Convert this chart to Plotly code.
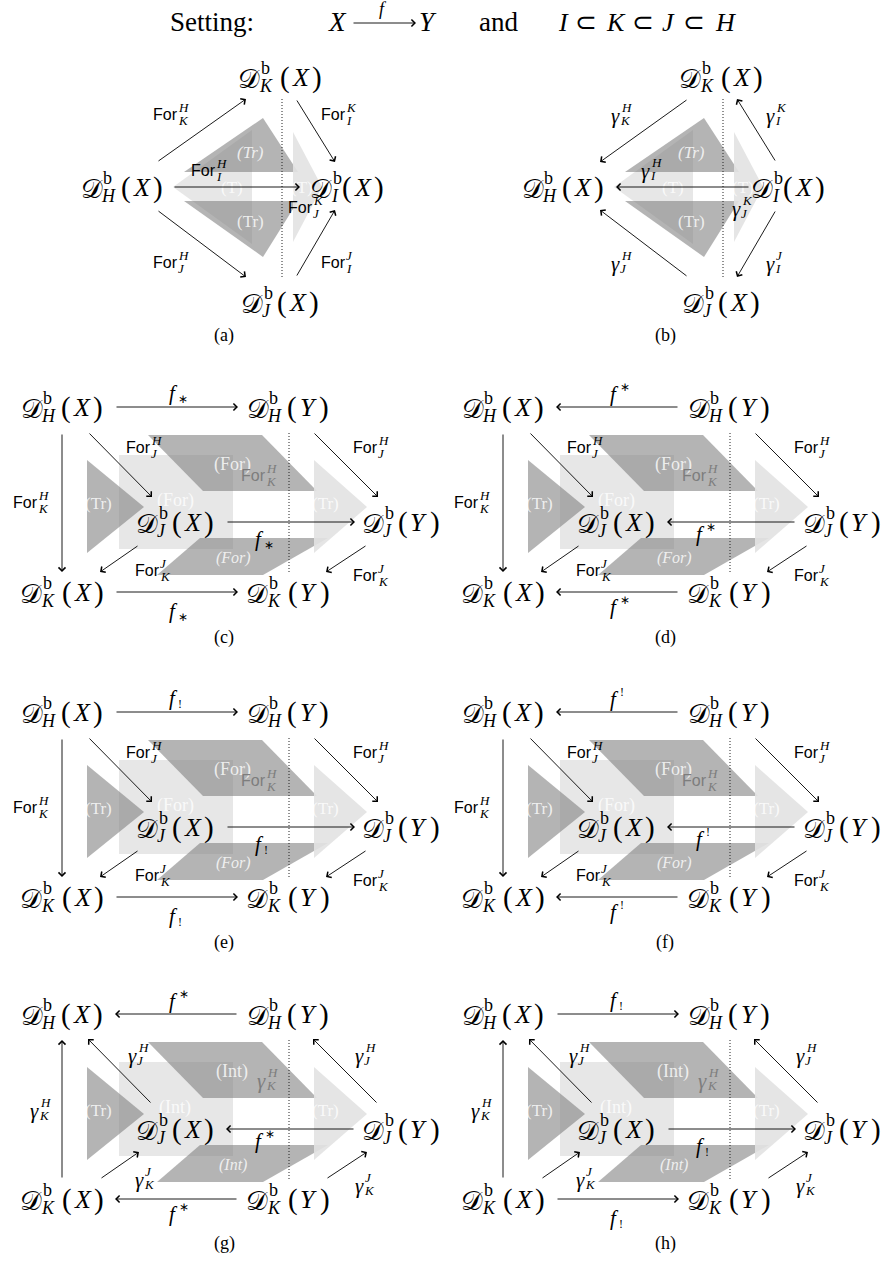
import plotly.graph_objects as go

# ===================== chart content (text / structure) =====================
SETTING_WORDS = ["Setting:", "and"]
SETTING_MAP = ["X", "f", "Y"]
SETTING_CHAIN = ["I", "⊂", "K", "⊂", "J", "⊂", "H"]
PANEL_LABELS = ["(a)", "(b)", "(c)", "(d)", "(e)", "(f)", "(g)", "(h)"]

# triangle panels (a), (b)
TRI_NODES = ["K", "H", "I", "J"]
TRI_EDGES = [("H", "K"), ("K", "I"), ("H", "I"), ("H", "J"), ("J", "I"), ("K", "J")]
TRI_EDGE_DOTTED = [False, False, False, False, False, True]
TRI_FUNCTOR = ["For", "γ"]
TRI_FACE_TEXT = ["<i>(Tr)</i>", "(T)", "(Tr)", "(T)"]

# square panels (c)..(h)
SQ_NODES = [("H", "X"), ("H", "Y"), ("J", "X"), ("J", "Y"), ("K", "X"), ("K", "Y")]
SQ_HEDGES = [(("H", "X"), ("H", "Y")), (("J", "X"), ("J", "Y")), (("K", "X"), ("K", "Y"))]
SQ_VEDGES = [(("H", "X"), ("J", "X")), (("H", "X"), ("K", "X")), (("H", "Y"), ("J", "Y")),
             (("J", "X"), ("K", "X")), (("J", "Y"), ("K", "Y")), (("H", "Y"), ("K", "Y"))]
SQ_VEDGE_DOTTED = [False, False, False, False, False, True]
SQ_HMAP_SCRIPT = ["∗", "∗", "!", "!", "∗", "!"]
SQ_HMAP_POS = ["sub", "sup", "sub", "sup", "sup", "sub"]
SQ_HMAP_FORWARD = [True, False, True, False, False, True]
SQ_VMAP = ["For", "For", "For", "For", "γ", "γ"]
SQ_VMAP_FORWARD = [True, True, True, True, False, False]
SQ_FACE = ["For", "For", "For", "For", "Int", "Int"]

# ===================== layout geometry =====================
W, H = 896, 1265
COL_DX = [0, 441]
SQ_ROW_DY = [0, 305, 607]
LABEL_POS = [(224, 335), (665, 335), (224, 637), (665, 637),
             (224, 942), (665, 942), (224, 1243), (665, 1243)]

TRI_POS = {"K": (280, 77), "H": (122, 187), "I": (347, 187), "J": (280, 302)}
TRI_ARROW_A = [((157, 162), (246, 99)), ((296, 99), (335, 162)), ((173, 187), (300, 187)),
               ((157, 210), (246, 277)), ((296, 277), (335, 210)), ((282, 99), (282, 277))]
TRI_ARROW_B = [((247, 99), (159, 162)), ((335, 162), (296, 99)), ((309, 187), (175, 187)),
               ((247, 277), (159, 210)), ((335, 210), (296, 277)), ((282, 277), (282, 99))]
TRI_LAB = {"For": [(165, 114), (333, 114), (203, 170), (165, 262), (333, 262), (300, 207)],
           "γ": [(174, 116), (329, 116), (204, 171), (174, 264), (329, 264), (295, 209)]}

SQ_POS = {("H", "X"): (62, 407), ("H", "Y"): (288, 407), ("J", "X"): (175, 522),
          ("J", "Y"): (401, 522), ("K", "X"): (62, 592), ("K", "Y"): (288, 592)}
SQ_HARROW = [((115, 407), (238, 407)), ((226, 522), (355, 522)), ((115, 592), (238, 592))]
SQ_VARROW = [((88, 432), (152, 497)), ((62, 433), (62, 572)), ((313, 432), (378, 497)),
             ((139, 545), (100, 572)), ((367, 545), (326, 572)), ((289, 433), (289, 572))]
SQ_HLAB = {"sub": [(173, 393), (259, 539), (173, 611)],
           "sup": [(173, 394), (259, 534), (173, 607)]}
SQ_VLAB = {"For": [(138, 447), (25, 502), (365, 447), (147, 570), (365, 575), (253, 475)],
           "γ": [(132, 449), (34, 504), (359, 449), (139, 573), (359, 579), (261, 474)]}

SERIF = "Liberation Serif, Times New Roman, serif"
SANS = "Liberation Sans, Arial, sans-serif"
CAL = "DejaVu Serif, DejaVu Sans, Noto Sans, serif"
LIGHT = "rgb(231,231,231)"
LIGHT_T = "rgba(226,226,226,0.9)"
DARK = "rgba(126,126,126,0.58)"
FACE_TXT = "rgba(255,255,255,0.8)"
GRAY_TXT = "rgb(125,125,125)"

ann, shp = [], []


def T(x, y, s, size, fam=SERIF, color="black", xa="center", ya="middle"):
    ann.append(dict(x=x, y=y, xref="x", yref="y", text=s, showarrow=False,
                    xanchor=xa, yanchor=ya, borderpad=0,
                    font=dict(family=fam, size=size, color=color)))


def arrow(p, q, color="black", width=0.9):
    ann.append(dict(x=q[0], y=q[1], ax=p[0], ay=p[1], xref="x", yref="y",
                    axref="x", ayref="y", text="", showarrow=True, arrowhead=4,
                    arrowsize=1.5, arrowwidth=width, arrowcolor=color,
                    standoff=0, startstandoff=0))


def dotted(p, q):
    shp.append(dict(type="line", x0=p[0], y0=p[1], x1=q[0], y1=q[1], xref="x", yref="y",
                    line=dict(color="#222", width=1, dash="1px,2px")))
    dx, dy = q[0] - p[0], q[1] - p[1]
    d = (dx * dx + dy * dy) ** 0.5
    arrow((q[0] - dx / d * 3, q[1] - dy / d * 3), q, color="#222")


def poly(pts, fill, ox, oy):
    path = "M " + " L ".join(f"{x + ox},{y + oy}" for x, y in pts) + " Z"
    shp.append(dict(type="path", path=path, xref="x", yref="y", fillcolor=fill,
                    line=dict(width=0), layer="above"))


SUBW = {"H": 20, "K": 21, "I": 11, "J": 15}


def dnode(xc, yc, s, v):
    sw = SUBW[s]
    L = xc - (20 + sw + 41) / 2
    T(L + 10, yc + 1, "𝒟", 27, CAL)
    T(L + 20.5, yc - 9, "b", 18, SERIF, xa="left")
    T(L + 18.5, yc + 9, f"<i>{s}</i>", 18, SERIF, xa="left")
    P = L + 20 + sw
    T(P + 4.5, yc, "(", 29)
    T(P + 20.5, yc, f"<i>{v}</i>", 26)
    T(P + 36.5, yc, ")", 29)


def flab(x, y, script, pos):
    T(x, y, "<i>f</i>", 21, SERIF)
    if pos == "sub":
        T(x + 4, y + 6, script, 12, SERIF, xa="left")
    else:
        T(x + 5, y - 7, script, 12, SERIF, xa="left")


def lab(x, y, kind, sup, sub, color="black"):
    if kind == "For":
        T(x, y, "For", 16, SANS, color)
        T(x + 12, y - 7, f"<i>{sup}</i>", 13, SERIF, color, xa="left")
        T(x + 12, y + 6, f"<i>{sub}</i>", 13, SERIF, color, xa="left")
    else:
        T(x, y, "<i>γ</i>", 21, SERIF, color)
        T(x + 5, y - 9, f"<i>{sup}</i>", 13, SERIF, color, xa="left")
        T(x + 4, y + 4, f"<i>{sub}</i>", 13, SERIF, color, xa="left")


# ---------------- setting line ----------------
T(212, 22, SETTING_WORDS[0], 27)
T(337, 22, f"<i>{SETTING_MAP[0]}</i>", 27)
arrow((352, 23), (416, 23))
T(383, 9, f"<i>{SETTING_MAP[1]}</i>", 18)
T(428, 22, f"<i>{SETTING_MAP[2]}</i>", 27)
T(498, 22, SETTING_WORDS[1], 27)
for xx, ch in zip([563, 586, 616, 643, 668, 694, 725], SETTING_CHAIN):
    T(xx, 22, ch if ch == "⊂" else f"<i>{ch}</i>", 26)

# ---------------- triangle panels ----------------
for k in range(2):
    ox = COL_DX[k]
    poly([(173, 187), (252, 130), (252, 244)], LIGHT, ox, 0)
    poly([(184, 172), (263, 118), (298, 172)], DARK, ox, 0)
    poly([(184, 201), (298, 201), (263, 257)], DARK, ox, 0)
    poly([(293, 132), (322, 187), (293, 242)], LIGHT_T, ox, 0)
    for (fx, fy), t in zip([(250, 152), (232, 187), (250, 221), (302, 187)], TRI_FACE_TEXT):
        T(fx + ox, fy, t, 17, SERIF, FACE_TXT)
    for n in TRI_NODES:
        x, y = TRI_POS[n]
        dnode(x + ox, y, n, "X")
    arrows = TRI_ARROW_A if k == 0 else TRI_ARROW_B
    kind = TRI_FUNCTOR[k]
    for i, (e, dot) in enumerate(zip(TRI_EDGES, TRI_EDGE_DOTTED)):
        p, q = arrows[i]
        p = (p[0] + ox, p[1]); q = (q[0] + ox, q[1])
        if dot:
            dotted(p, q)
        else:
            arrow(p, q)
        lx, ly = TRI_LAB[kind][i]
        lab(lx + ox, ly, kind, e[0], e[1])
    T(LABEL_POS[k][0], LABEL_POS[k][1], PANEL_LABELS[k], 18)

# ---------------- square panels ----------------
for j in range(6):
    ox = COL_DX[j % 2]
    oy = SQ_ROW_DY[j // 2]
    face = SQ_FACE[j]
    # faces
    poly([(119, 455), (233, 455), (233, 549), (119, 549)], LIGHT, ox, oy)
    poly([(87, 460), (144, 507), (87, 553)], DARK, ox, oy)
    poly([(148, 435), (262, 435), (317, 491), (203, 491)], DARK, ox, oy)
    poly([(200, 538), (328, 538), (263, 575), (157, 575)], DARK, ox, oy)
    poly([(314, 460), (367, 507), (314, 553)], LIGHT_T, ox, oy)
    T(232 + ox, 464 + oy, f"({face})", 18, SERIF, FACE_TXT)
    T(175 + ox, 500 + oy, f"({face})", 18, SERIF, FACE_TXT)
    T(233 + ox, 558 + oy, f"<i>({face})</i>", 16, SERIF, FACE_TXT)
    T(98 + ox, 503 + oy, "(Tr)", 17, SERIF, FACE_TXT)
    T(325 + ox, 503 + oy, "(Tr)", 17, SERIF, FACE_TXT)
    # nodes
    for nd in SQ_NODES:
        x, y = SQ_POS[nd]
        dnode(x + ox, y + oy, nd[0], nd[1])
    # horizontal maps
    for i, _e in enumerate(SQ_HEDGES):
        p, q = SQ_HARROW[i]
        if not SQ_HMAP_FORWARD[j]:
            p, q = q, p
        arrow((p[0] + ox, p[1] + oy), (q[0] + ox, q[1] + oy))
        lx, ly = SQ_HLAB[SQ_HMAP_POS[j]][i]
        flab(lx + ox, ly + oy, SQ_HMAP_SCRIPT[j], SQ_HMAP_POS[j])
    # vertical / diagonal maps
    kind = SQ_VMAP[j]
    for i, (e, dot) in enumerate(zip(SQ_VEDGES, SQ_VEDGE_DOTTED)):
        p, q = SQ_VARROW[i]
        if not SQ_VMAP_FORWARD[j]:
            p, q = q, p
        p = (p[0] + ox, p[1] + oy); q = (q[0] + ox, q[1] + oy)
        if dot:
            dotted(p, q)
        else:
            arrow(p, q)
        lx, ly = SQ_VLAB[kind][i]
        lab(lx + ox, ly + oy, kind, e[0][0], e[1][0], GRAY_TXT if dot else "black")
    T(LABEL_POS[j + 2][0], LABEL_POS[j + 2][1], PANEL_LABELS[j + 2], 18)

fig = go.Figure()
fig.add_trace(go.Scatter(x=[0, W], y=[0, H], mode="markers", marker=dict(opacity=0),
                         hoverinfo="skip", showlegend=False))
fig.update_layout(
    width=W, height=H, margin=dict(l=0, r=0, t=0, b=0),
    paper_bgcolor="white", plot_bgcolor="white",
    xaxis=dict(range=[0, W], visible=False, fixedrange=True),
    yaxis=dict(range=[H, 0], visible=False, fixedrange=True),
    annotations=ann, shapes=shp, showlegend=False,
)
fig.write_html("out.html", config={"displayModeBar": False},
               post_script="document.body.style.margin='0';")
